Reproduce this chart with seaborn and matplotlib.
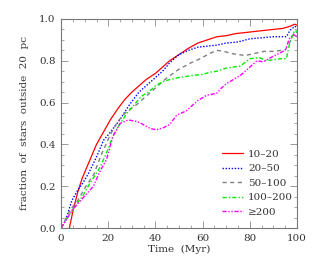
import matplotlib
matplotlib.use("Agg")
import matplotlib.pyplot as plt
import seaborn as sns
from matplotlib.ticker import MultipleLocator

# fraction of stars outside 20 pc vs time, per mass bin
red_t = [3.5, 5, 7, 9, 12, 15, 18, 21, 24, 27, 30, 33, 36, 40, 43, 46, 50, 54, 58, 62,
         66, 70, 74, 78, 82, 86, 90, 94, 97, 99, 100]
red_f = [0.0, 0.08, 0.17, 0.24, 0.32, 0.40, 0.46, 0.52, 0.57, 0.615, 0.65, 0.68, 0.71, 0.74,
         0.77, 0.80, 0.83, 0.86, 0.885, 0.90, 0.915, 0.92, 0.93, 0.935, 0.94, 0.945, 0.95,
         0.955, 0.965, 0.975, 0.97]

blue_t = [0, 2, 4.5, 7, 9.5, 12, 15, 18, 21, 25, 29, 33, 36, 40, 43, 46, 50, 54, 58, 62,
          66, 70, 75, 80, 85, 90, 95.5, 97, 99, 100]
blue_f = [0.0, 0.04, 0.13, 0.18, 0.22, 0.27, 0.34, 0.42, 0.46, 0.52, 0.59, 0.65, 0.68, 0.72,
          0.75, 0.79, 0.83, 0.85, 0.865, 0.87, 0.875, 0.885, 0.89, 0.905, 0.91, 0.915, 0.915,
          0.945, 0.965, 0.96]

gray_t = [0, 4, 7, 10, 14, 17, 21, 24, 28, 32, 36, 40, 45, 50, 55, 59, 63, 66, 69, 72, 75,
          78, 82, 86, 90, 95, 97, 99, 100]
gray_f = [0.0, 0.09, 0.13, 0.19, 0.26, 0.35, 0.45, 0.51, 0.56, 0.59, 0.63, 0.67, 0.72, 0.76,
          0.79, 0.81, 0.835, 0.85, 0.845, 0.835, 0.83, 0.825, 0.835, 0.845, 0.845, 0.852,
          0.89, 0.94, 0.935]

green_t = [0, 5, 9, 12, 16.5, 20, 22, 25, 28, 31, 34, 37, 40, 43, 46, 50, 53, 56, 60, 63,
           66, 70, 73, 76, 80, 84, 87, 90, 93, 95.5, 97, 99, 100]
green_f = [0.0, 0.09, 0.15, 0.21, 0.29, 0.38, 0.44, 0.50, 0.55, 0.59, 0.63, 0.65, 0.68, 0.70,
           0.71, 0.72, 0.725, 0.73, 0.735, 0.745, 0.75, 0.765, 0.77, 0.775, 0.81, 0.815, 0.80,
           0.805, 0.81, 0.81, 0.89, 0.945, 0.94]

mag_t = [0, 5, 9, 13.7, 16, 19.3, 22, 25, 28.5, 32, 34, 36.3, 38, 40.5, 43.4, 46, 49, 51, 53,
         56, 58, 61.7, 64, 66, 68, 70, 73, 76, 79, 83, 85.7, 88, 91.4, 95, 96.7, 98.4, 100]
mag_f = [0.0, 0.09, 0.14, 0.20, 0.26, 0.33, 0.44, 0.50, 0.517, 0.51, 0.50, 0.485, 0.475, 0.47,
         0.48, 0.495, 0.54, 0.55, 0.56, 0.59, 0.61, 0.635, 0.64, 0.645, 0.67, 0.69, 0.71, 0.73,
         0.76, 0.80, 0.795, 0.81, 0.83, 0.85, 0.905, 0.925, 0.915]

labels = ["10\u201320", "20\u201350", "50\u2013100", "100\u2013200", "\u2265200"]

sns.set_theme(style="ticks")
plt.rcParams['font.family'] = ['DejaVu Serif']

fig = plt.figure(figsize=(3.15, 2.67), dpi=100)
ax = fig.add_axes([0.194, 0.146, 0.749, 0.783])

sns.lineplot(x=red_t, y=red_f, color="#ff0000", lw=0.9, label=labels[0], ax=ax)
sns.lineplot(x=blue_t, y=blue_f, color="#0000ff", lw=1.0, ls=(0, (1, 1.2)), label=labels[1], ax=ax)
sns.lineplot(x=gray_t, y=gray_f, color="#808080", lw=1.0, ls=(0, (3, 2.5)), label=labels[2], ax=ax)
sns.lineplot(x=green_t, y=green_f, color="#00ee00", lw=1.0, ls=(0, (3, 1.5, 1, 1.5)), label=labels[3], ax=ax)
sns.lineplot(x=mag_t, y=mag_f, color="#ff00ff", lw=1.0, ls=(0, (3, 1.2, 1, 1.2, 1, 1.2)), label=labels[4], ax=ax)

ax.set_xlim(0, 100)
ax.set_ylim(0, 1.0)
ax.xaxis.set_major_locator(MultipleLocator(20))
ax.xaxis.set_minor_locator(MultipleLocator(5))
ax.yaxis.set_major_locator(MultipleLocator(0.2))
ax.yaxis.set_minor_locator(MultipleLocator(0.05))
ax.set_yticklabels([f"{v:.1f}" for v in ax.get_yticks()])

for s in ax.spines.values():
    s.set_color("#777777")
    s.set_linewidth(0.8)
ax.tick_params(which="both", direction="in", top=True, right=True, color="#999999",
               labelsize=7.5, labelcolor="#333333", pad=4)
ax.tick_params(which="major", length=5, width=0.7)
ax.tick_params(which="minor", length=2.5, width=0.6)

ax.set_xlabel("Time  (Myr)", fontsize=7.5, color="#333333", labelpad=2)
ax.set_ylabel("fraction  of  stars  outside  20  pc", fontsize=7.5, color="#333333", labelpad=7)

ax.legend(loc="upper left", bbox_to_anchor=(0.66, 0.40), frameon=False, fontsize=7.5,
          handlelength=2.0, handletextpad=0.5, labelspacing=0.5, labelcolor="#333333",
          borderpad=0)

plt.savefig("out.png", dpi=100)
plt.close()
